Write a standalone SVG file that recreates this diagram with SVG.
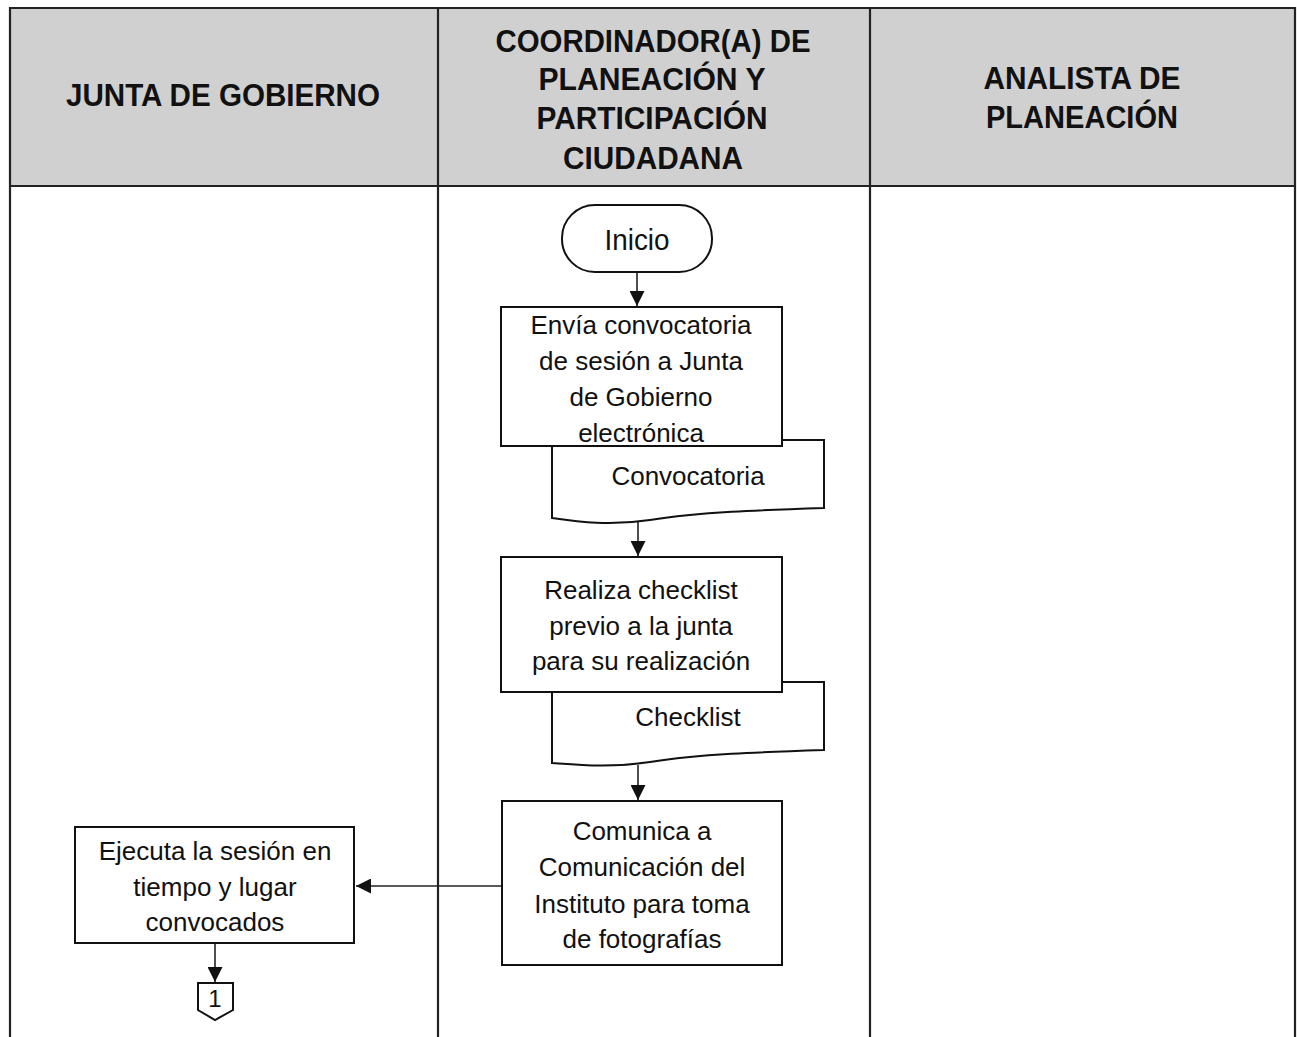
<svg xmlns="http://www.w3.org/2000/svg" width="1297" height="1037" viewBox="0 0 1297 1037">
<defs>
<style>
.hd{font-family:"Liberation Sans",Arial,sans-serif;font-weight:bold;font-size:32px;fill:#111;text-anchor:middle}
.tx{font-family:"Liberation Sans",Arial,sans-serif;font-size:26px;fill:#111;text-anchor:middle}
.sh{fill:#fff;stroke:#111;stroke-width:2}
.ln{fill:none;stroke:#222;stroke-width:2.2}
.cn{fill:none;stroke:#222;stroke-width:1.6}
</style>
<marker id="ahb" viewBox="0 0 10 10" refX="10" refY="5" markerWidth="15" markerHeight="15" markerUnits="userSpaceOnUse" orient="auto">
<path d="M0,0 L10,5 L0,10 z" fill="#111"/>
</marker>
</defs>
<rect width="1297" height="1037" fill="#fff"/>
<g id="table">
<rect x="10" y="8" width="1285" height="178" fill="#d0d0d0"/>
<path class="ln" d="M10,1037 V8 H1295 V1037 M10,186 H1295 M438,8 V1037 M870,8 V1037"/>
<text class="hd" x="223" y="106" textLength="314" lengthAdjust="spacingAndGlyphs">JUNTA DE GOBIERNO</text>
<text class="hd" x="653" y="52" textLength="315" lengthAdjust="spacingAndGlyphs">COORDINADOR(A) DE</text>
<text class="hd" x="652" y="90" textLength="227" lengthAdjust="spacingAndGlyphs">PLANEACIÓN Y</text>
<text class="hd" x="652" y="129" textLength="231" lengthAdjust="spacingAndGlyphs">PARTICIPACIÓN</text>
<text class="hd" x="653" y="169" textLength="180" lengthAdjust="spacingAndGlyphs">CIUDADANA</text>
<text class="hd" x="1082" y="89" textLength="197" lengthAdjust="spacingAndGlyphs">ANALISTA DE</text>
<text class="hd" x="1082" y="128" textLength="192" lengthAdjust="spacingAndGlyphs">PLANEACIÓN</text>
</g>
<g id="connectors">
<path class="cn" d="M637,272 V306" marker-end="url(#ahb)"/>
<path class="cn" d="M638,521 V556" marker-end="url(#ahb)"/>
<path class="cn" d="M638,765 V800" marker-end="url(#ahb)"/>
<path class="cn" d="M502,886 H356" marker-end="url(#ahb)"/>
<path class="cn" d="M215,943 V982" marker-end="url(#ahb)"/>
</g>
<g id="inicio">
<rect class="sh" x="562" y="205" width="150" height="67" rx="33" ry="33"/>
<text class="tx" x="637" y="250" style="font-size:29px" textLength="65" lengthAdjust="spacingAndGlyphs">Inicio</text>
</g>
<g id="doc-convocatoria">
<path class="sh" d="M552,440 H824 V508 C760,510 700,512 650,520 C610,526 580,522 552,518 Z"/>
<text class="tx" x="688" y="485">Convocatoria</text>
</g>
<g id="envia">
<rect class="sh" x="501" y="307" width="281" height="139"/>
<text class="tx" x="641" y="334">Envía convocatoria</text>
<text class="tx" x="641" y="370">de sesión a Junta</text>
<text class="tx" x="641" y="406">de Gobierno</text>
<text class="tx" x="641" y="442">electrónica</text>
</g>
<g id="doc-checklist">
<path class="sh" d="M552,682 H824 V750 C760,752 700,754 650,762 C610,768 580,765 552,763 Z"/>
<text class="tx" x="688" y="726">Checklist</text>
</g>
<g id="realiza">
<rect class="sh" x="501" y="557" width="281" height="135"/>
<text class="tx" x="641" y="599">Realiza checklist</text>
<text class="tx" x="641" y="635">previo a la junta</text>
<text class="tx" x="641" y="670">para su realización</text>
</g>
<g id="comunica">
<rect class="sh" x="502" y="801" width="280" height="164"/>
<text class="tx" x="642" y="840">Comunica a</text>
<text class="tx" x="642" y="876">Comunicación del</text>
<text class="tx" x="642" y="913">Instituto para toma</text>
<text class="tx" x="642" y="948">de fotografías</text>
</g>
<g id="ejecuta">
<rect class="sh" x="75" y="827" width="279" height="116"/>
<text class="tx" x="215" y="860">Ejecuta la sesión en</text>
<text class="tx" x="215" y="896">tiempo y lugar</text>
<text class="tx" x="215" y="931">convocados</text>
</g>
<g id="conector-1">
<path class="sh" d="M198,983 H233 V1010 L215,1020 L198,1010 Z"/>
<text class="tx" x="215" y="1007" style="font-size:24px">1</text>
</g>
</svg>
